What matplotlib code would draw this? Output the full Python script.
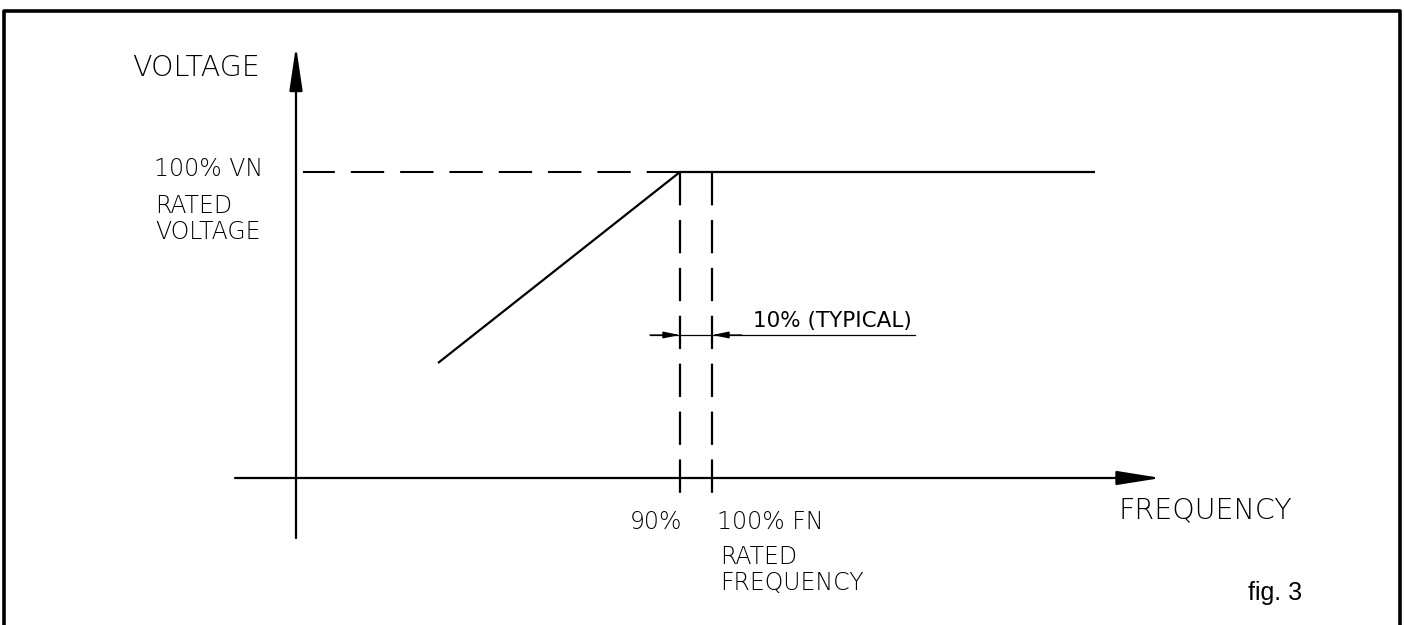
import matplotlib
matplotlib.use('Agg')
import matplotlib.pyplot as plt
from matplotlib.lines import Line2D

# Diagram units: origin at the crossing of the two axes, 1 unit ~ 1 px
freq = [142, 384, 799]          # V/F characteristic, frequency
volt = [115, 306, 306]          # V/F characteristic, voltage
v_rated = 306                   # 100% VN
f_marks = [384, 416]            # 90% and 100% FN
f_labels = ['90%', '100% FN']
x_axis = [-61, 865]             # start / arrow tip of frequency axis
y_axis = [-60, 432]             # start / arrow tip of voltage axis
mark_bottom = -15               # lower end of the dashed frequency marks
dim_y = 143                     # height of the 10% dimension line
dim_span = [354, 619]           # dimension line extent

plt.rcParams['font.family'] = ['DejaVu Sans']
plt.rcParams['lines.scale_dashes'] = False

fig = plt.figure(figsize=(14.04, 6.25), dpi=100)
ax = fig.add_axes([0, 0, 1, 1])
ax.set_xlim(-296, 1108)
ax.set_ylim(-147, 478)
ax.axis('off')

# frame (no bottom edge)
fig.add_artist(Line2D([0.0032, 0.0032, 0.9968, 0.9968], [0, 0.9832, 0.9832, 0],
                      transform=fig.transFigure, color='black', lw=2.6))

# axes with arrow heads
ax.annotate('', xy=(0, y_axis[1]), xytext=(0, y_axis[0]),
            arrowprops=dict(arrowstyle='-|>,head_length=27,head_width=4', mutation_scale=1,
                            color='black', lw=1.6, shrinkA=0, shrinkB=0))
ax.annotate('', xy=(x_axis[1], 0), xytext=(x_axis[0], 0),
            arrowprops=dict(arrowstyle='-|>,head_length=27,head_width=4.3', mutation_scale=1,
                            color='black', lw=1.6, shrinkA=0, shrinkB=0))

# characteristic
ax.plot(freq, volt, color='black', lw=1.6, solid_capstyle='butt')

# dashed rated-voltage line (drawn from the knee back to the axis)
ax.plot([freq[1], 7], [v_rated, v_rated], color='black', lw=1.5, dashes=(24, 11.5))

# dashed frequency marks
for f in f_marks:
    ax.plot([f, f], [v_rated, mark_bottom], color='black', lw=1.6, dashes=(24, 10.5))

# 10% dimension
ax.plot(dim_span, [dim_y, dim_y], color='black', lw=0.9)
ax.annotate('', xy=(f_marks[0], dim_y), xytext=(dim_span[0], dim_y),
            arrowprops=dict(arrowstyle='-|>,head_length=10,head_width=2', mutation_scale=1,
                            color='black', lw=0.9, shrinkA=0, shrinkB=0))
ax.annotate('', xy=(f_marks[1], dim_y), xytext=(f_marks[1] + 30, dim_y),
            arrowprops=dict(arrowstyle='-|>,head_length=10,head_width=2', mutation_scale=1,
                            color='black', lw=0.9, shrinkA=0, shrinkB=0))
ax.text(457, 151, '10% (TYPICAL)', fontsize=15.5, ha='left', va='baseline')

# labels
light = dict(fontweight='light', color='black', va='baseline', ha='left')
ax.text(-164, 402, 'VOLTAGE', fontsize=20.5, **light)
ax.text(-142, 302, '100% VN', fontsize=17, **light)
ax.text(-141, 265, 'RATED', fontsize=17, **light)
ax.text(-141, 239, 'VOLTAGE', fontsize=17, **light)
ax.text(822, -40, 'FREQUENCY', fontsize=20.5, **light)
ax.text(f_marks[0] + 2, -51, f_labels[0], fontsize=17, fontweight='light', va='baseline', ha='right')
ax.text(f_marks[1] + 5, -51, f_labels[1], fontsize=17, **light)
ax.text(424, -86, 'RATED', fontsize=17, **light)
ax.text(424, -112, 'FREQUENCY', fontsize=17, **light)

ax.text(952, -122, 'fig. 3', fontsize=18, family='Liberation Sans', va='baseline', ha='left')

fig.savefig('out.png', dpi=100)
